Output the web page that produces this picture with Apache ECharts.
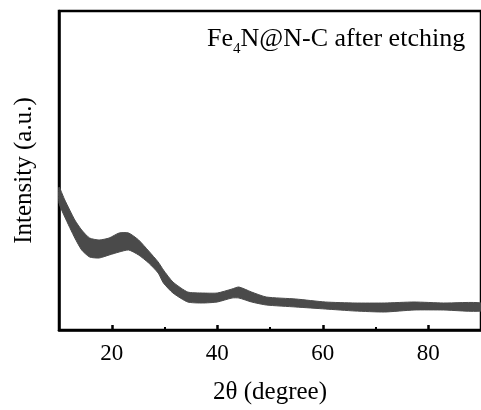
<!DOCTYPE html>
<html>
<head>
<meta charset="utf-8">
<script src="https://cdn.jsdelivr.net/npm/echarts@6/dist/echarts.min.js"></script>
<style>
html, body { margin: 0; padding: 0; background: #fff; }
#myChart { width: 481px; height: 410px; }
</style>
</head>
<body>
<div id="myChart"></div>
<script>
// 2theta positions (degree)
var angles = [10.0, 11.1, 13.0, 14.3, 15.8, 17.6, 19.5, 21.4, 23.2, 25.1, 27.0, 28.8, 29.8, 31.6, 34.4, 37.2, 40.0, 42.8, 44.1, 46.5, 49.3, 54.9, 60.5, 66.1, 71.7, 77.3, 82.9, 90.0]
// lower and upper edge of the noisy band (arbitrary intensity units)
var lowerEdge = [127, 113, 92, 80, 73, 72, 75, 78, 80, 75, 67, 57, 47, 37, 28, 27, 28, 32, 32, 28, 25, 23, 21, 19, 18, 20, 20, 19]
var upperEdge = [143, 130, 110, 100, 92, 90, 92, 97, 97, 90, 79, 68, 60, 48, 38, 37, 37, 41, 43, 38, 33, 31, 28, 27, 27, 28, 27, 27]
var majorTicks = [20, 40, 60, 80]
var minorTicks = [30, 50, 70]

var font = '"Liberation Serif", "Times New Roman", serif'
var lineColor = '#4a4a4a'

var bandData = angles.map(function (a, i) { return [a, lowerEdge[i], upperEdge[i]] })

// draws the whole band as one polygon, on the first item
function renderBand (params, api) {
	if (params.dataIndex !== 0) return
	var top = []
	var bottom = []
	for (var i = 0; i < bandData.length; i++) {
		top.push(api.coord([bandData[i][0], bandData[i][2]]))
		bottom.unshift(api.coord([bandData[i][0], bandData[i][1]]))
	}
	return {
		type: 'polygon',
		shape: { points: top.concat(bottom), smooth: 0.2 },
		style: { fill: lineColor, stroke: lineColor, lineWidth: 1 }
	}
}

var myChart = echarts.init(document.getElementById('myChart'))
var option = {
	animation: false,
	grid: {
		left: 59,
		top: 11,
		width: 429,
		height: 319,
		show: true,
		borderColor: '#000',
		borderWidth: 2.5
	},
	xAxis: [
		{
			type: 'value',
			min: 10,
			max: 90,
			interval: 10,
			name: '2θ (degree)',
			nameLocation: 'middle',
			nameGap: 50,
			nameTextStyle: { fontFamily: font, fontSize: 25, color: '#000' },
			splitLine: { show: false },
			axisLine: { onZero: false, lineStyle: { color: '#000', width: 2.5 } },
			axisTick: { inside: true, length: 5, customValues: majorTicks, lineStyle: { color: '#000', width: 2.5 } },
			axisLabel: { customValues: majorTicks, margin: 12, fontFamily: font, fontSize: 23, color: '#000' }
		},
		{
			type: 'value',
			min: 10,
			max: 90,
			interval: 10,
			position: 'bottom',
			splitLine: { show: false },
			axisLine: { show: false },
			axisTick: { inside: true, length: 3, customValues: minorTicks, lineStyle: { color: '#000', width: 2 } },
			axisLabel: { show: false }
		}
	],
	yAxis: {
		type: 'value',
		min: 0,
		max: 319,
		name: 'Intensity (a.u.)',
		nameLocation: 'middle',
		nameGap: 22,
		nameTextStyle: { fontFamily: font, fontSize: 25, color: '#000' },
		splitLine: { show: false },
		axisLine: { show: true, lineStyle: { color: '#000', width: 2.5 } },
		axisTick: { show: false },
		axisLabel: { show: false }
	},
	graphic: [
		{
			type: 'text',
			left: 207,
			top: 26,
			style: {
				text: '{a|Fe}{s|4}{a|N@N-C after etching}',
				rich: {
					a: { fontFamily: font, fontSize: 26, color: '#000' },
					s: { fontFamily: font, fontSize: 15, color: '#000', padding: [20, 0, 0, 0] }
				}
			}
		}
	],
	series: [
		{
			type: 'custom',
			data: bandData,
			encode: { x: 0, y: [1, 2] },
			renderItem: renderBand
		}
	]
}
myChart.setOption(option)
</script>
</body>
</html>
